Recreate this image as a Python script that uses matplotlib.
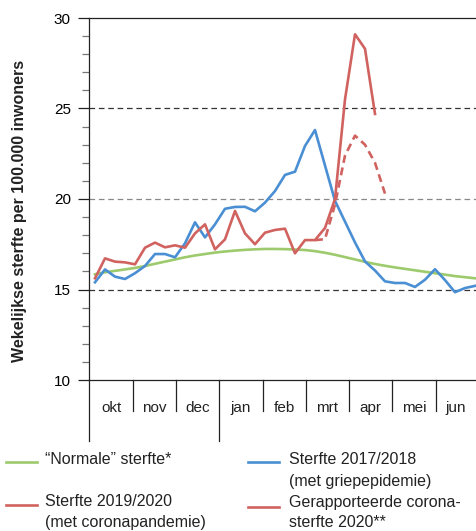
import matplotlib
matplotlib.use("Agg")
import matplotlib.pyplot as plt
import matplotlib.transforms as mtransforms
from matplotlib.lines import Line2D
import numpy as np

plt.rcParams["font.family"] = ["Liberation Sans", "DejaVu Sans"]

# weekly values, week 0 = first week of October
MONTHS = ["okt", "nov", "dec", "jan", "feb", "mrt", "apr", "mei", "jun"]
MONTH_EDGES = [-0.6, 3.8, 8.1, 12.4, 16.8, 21.1, 25.4, 29.7, 34.1, 38.1]

NORMAL = [15.84, 15.95, 16.03, 16.11, 16.19, 16.30, 16.42, 16.54, 16.66, 16.78,
          16.88, 16.96, 17.04, 17.10, 17.15, 17.19, 17.22, 17.24, 17.24, 17.23,
          17.21, 17.18, 17.12, 17.03, 16.92, 16.79, 16.66, 16.53, 16.41, 16.31,
          16.22, 16.14, 16.06, 15.98, 15.90, 15.82, 15.74, 15.68, 15.62]

FLU_2017 = [15.40, 16.11, 15.71, 15.58, 15.90, 16.30, 16.96, 16.96, 16.78, 17.55,
            18.71, 17.88, 18.60, 19.46, 19.56, 19.57, 19.32, 19.80, 20.44, 21.33,
            21.51, 22.93, 23.81, 21.85, 19.90, 18.75, 17.60, 16.55, 16.05, 15.45,
            15.36, 15.36, 15.14, 15.54, 16.12, 15.52, 14.85, 15.08, 15.20]

COVID_2019 = [15.62, 16.72, 16.54, 16.50, 16.39, 17.31, 17.59, 17.33, 17.44, 17.31,
              18.10, 18.60, 17.22, 17.77, 19.34, 18.10, 17.50, 18.14, 18.29, 18.36,
              17.00, 17.73, 17.73, 18.40, 20.00, 25.50, 29.10, 28.30, 24.70]

REPORTED_START = 22
REPORTED_2020 = [17.73, 17.78, 19.70, 22.40, 23.50, 23.00, 22.00, 20.30]

GREEN = "#9dca6c"
BLUE = "#4a8fd3"
RED = "#d0625f"

W, H = 476, 531
fig = plt.figure(figsize=(W / 100, H / 100), dpi=100)
ax = fig.add_axes([89 / W, 1 - 380 / H, (W - 89) / W, (380 - 18) / H])

lw = 1.9
ax.plot(np.arange(len(NORMAL)), NORMAL, color=GREEN, lw=lw, zorder=3)
ax.plot(np.arange(len(FLU_2017)), FLU_2017, color=BLUE, lw=lw, zorder=4)
ax.plot(np.arange(len(COVID_2019)), COVID_2019, color=RED, lw=lw, zorder=5)
ax.plot(np.arange(len(REPORTED_2020)) + REPORTED_START, REPORTED_2020,
        color=RED, lw=lw, ls=(0, (3, 1.8)), zorder=5)

for y, c in [(25, "#333333"), (20, "#888888"), (15, "#333333")]:
    ax.axhline(y, color=c, lw=0.9, ls=(0, (4.5, 3)), zorder=1)

ax.set_xlim(MONTH_EDGES[0], MONTH_EDGES[-1])
ax.set_ylim(10, 30)
ax.set_yticks([10, 15, 20, 25, 30])
ax.set_yticks(np.arange(10, 31, 1), minor=True)
ax.set_xticks([])
ax.tick_params(axis="y", which="major", length=8, width=0.9, color="#222222",
               labelsize=11, pad=5)
ax.tick_params(axis="y", which="minor", length=5, width=0.9, color="#777777")

for side in ["left", "top", "bottom"]:
    ax.spines[side].set_color("#222222")
    ax.spines[side].set_linewidth(0.9)
ax.spines["right"].set_visible(False)

# month strip below the axis
trans = mtransforms.blended_transform_factory(ax.transData, ax.transAxes)
for i, edge in enumerate(MONTH_EDGES[:-1]):
    low = -0.169 if i in (0, 3) else -0.085
    ax.plot([edge, edge], [0, low], color="#222222", lw=0.9,
            transform=trans, clip_on=False)
for i, name in enumerate(MONTHS):
    mid = (MONTH_EDGES[i] + MONTH_EDGES[i + 1]) / 2
    ax.text(mid, -0.088, name, transform=trans, ha="center", va="baseline",
            fontsize=11, color="#222222")

fig.text(20 / W, 1 - 211 / H, "Wekelijkse sterfte per 100.000 inwoners",
         rotation=90, ha="center", va="center", fontsize=11.5,
         fontweight="bold", color="#222222")

# legend
def legend_line(x0, x1, y, color):
    fig.add_artist(Line2D([x0 / W, x1 / W], [1 - y / H, 1 - y / H],
                          color=color, lw=lw, transform=fig.transFigure))


def legend_text(x, y, s):
    fig.text(x / W, 1 - y / H, s, ha="left", va="baseline", fontsize=11.5,
             color="#222222")


legend_line(6, 37, 462, GREEN)
legend_text(45, 464, "\u201cNormale\u201d sterfte*")
legend_line(248, 279, 462, BLUE)
legend_text(289, 464, "Sterfte 2017/2018")
legend_text(289, 486, "(met griepepidemie)")
legend_line(6, 37, 505, RED)
legend_text(45, 506, "Sterfte 2019/2020")
legend_text(45, 527, "(met coronapandemie)")
legend_line(248, 279, 507, RED)
legend_text(289, 507, "Gerapporteerde corona-")
legend_text(289, 527, "sterfte 2020**")

fig.savefig("out.png", dpi=100)
